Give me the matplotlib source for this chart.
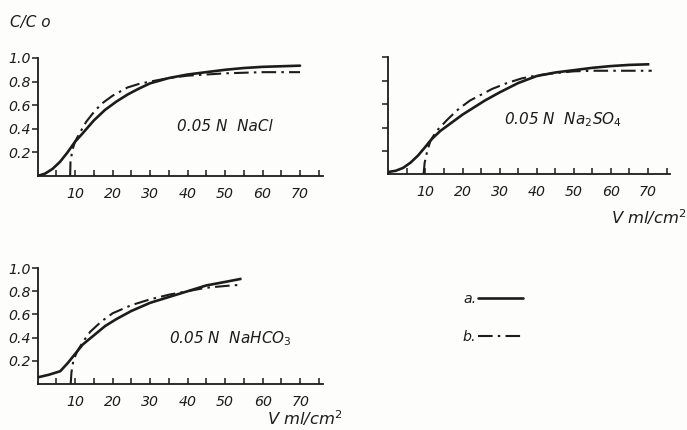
import matplotlib
matplotlib.use("Agg")
import matplotlib.pyplot as plt

plt.rcParams['font.family'] = ['DejaVu Sans']
plt.rcParams['mathtext.default'] = 'it'

INK = '#1c1c1c'

# ---- data ----
nacl_a_x = [0, 2, 4, 6, 8, 10, 12, 15, 18, 21, 24, 27, 30, 35, 40, 45, 50, 55, 60, 65, 70]
nacl_a_y = [0, 0.02, 0.06, 0.12, 0.20, 0.29, 0.36, 0.47, 0.56, 0.63, 0.69, 0.74, 0.785, 0.83, 0.86, 0.88, 0.90, 0.915, 0.925, 0.93, 0.935]
nacl_b_x = [8.7, 8.8, 9.3, 10, 11, 13, 15, 17, 20, 24, 27, 30, 35, 40, 45, 50, 55, 60, 65, 70]
nacl_b_y = [0, 0.12, 0.22, 0.29, 0.35, 0.46, 0.54, 0.61, 0.68, 0.75, 0.78, 0.80, 0.83, 0.85, 0.86, 0.87, 0.875, 0.88, 0.88, 0.88]

na2so4_a_x = [0, 2, 4, 6, 8, 10, 11, 12, 13, 14, 17, 20, 23, 26, 30, 35, 40, 45, 50, 55, 60, 65, 70]
na2so4_a_y = [0.02, 0.03, 0.055, 0.10, 0.16, 0.235, 0.275, 0.31, 0.34, 0.37, 0.44, 0.51, 0.57, 0.63, 0.70, 0.78, 0.84, 0.87, 0.89, 0.91, 0.925, 0.935, 0.94]
na2so4_b_x = [9.5, 9.8, 10.5, 11.4, 13, 16, 19, 22, 25, 28, 32, 36, 40, 45, 50, 55, 60, 65, 71]
na2so4_b_y = [0, 0.10, 0.20, 0.29, 0.37, 0.47, 0.56, 0.63, 0.68, 0.73, 0.78, 0.82, 0.845, 0.865, 0.88, 0.885, 0.885, 0.885, 0.885]

nahco3_a_x = [0, 3, 6, 8, 10, 12, 15, 18, 21, 25, 30, 35, 40, 45, 50, 54]
nahco3_a_y = [0.057, 0.08, 0.11, 0.18, 0.26, 0.34, 0.42, 0.50, 0.56, 0.63, 0.70, 0.75, 0.80, 0.85, 0.88, 0.905]
nahco3_b_x = [8.8, 9.0, 9.5, 10.5, 12, 14, 17, 20, 25, 30, 35, 40, 45, 50, 54]
nahco3_b_y = [0, 0.10, 0.20, 0.28, 0.36, 0.45, 0.54, 0.61, 0.68, 0.73, 0.77, 0.80, 0.83, 0.845, 0.855]

x_major = [10, 20, 30, 40, 50, 60, 70]
x_minor = [5, 15, 25, 35, 45, 55, 65, 75]
y_ticks = [0.2, 0.4, 0.6, 0.8, 1.0]
y_labels = ['0.2', '0.4', '0.6', '0.8', '1.0']

labels = ['0.05 N  NaCl', '0.05 N  Na$_2$SO$_4$', '0.05 N  NaHCO$_3$']
legend_labels = ['a.', 'b.']

fig = plt.figure(figsize=(6.87, 4.30), dpi=100)
fig.patch.set_facecolor('#fdfdfb')

positions = [
    [37.5/687, 1-176/430, 285/687, 118/430],
    [388.3/687, 1-174.3/430, 282/687, 117/430],
    [37.7/687, 1-384/430, 285/687, 116/430],
]

dash_b = (0, (7, 2.5, 1.2, 2.5))
FS = 10.2

axes = []
for pos in positions:
    ax = fig.add_axes(pos)
    ax.set_facecolor('none')
    ax.set_xlim(0, 76)
    ax.set_ylim(0, 1.0)
    for s in ['top', 'right']:
        ax.spines[s].set_visible(False)
    for s in ['left', 'bottom']:
        ax.spines[s].set_color(INK)
        ax.spines[s].set_linewidth(1.3)
    ax.set_xticks(x_major)
    ax.set_xticks(x_minor, minor=True)
    ax.set_xticklabels([str(v) for v in x_major], fontstyle='italic', fontsize=FS, color=INK)
    ax.tick_params(axis='x', which='both', direction='in', length=4, width=1.1, color=INK, pad=8)
    ax.set_yticks(y_ticks)
    ax.tick_params(axis='y', direction='out', length=4, width=1.1, color=INK, pad=1)
    axes.append(ax)

ax1, ax2, ax3 = axes
ax1.set_yticklabels(y_labels, fontstyle='italic', fontsize=FS, color=INK)
ax3.set_yticklabels(y_labels, fontstyle='italic', fontsize=FS, color=INK)
ax2.set_yticklabels([])

la, = ax1.plot(nacl_a_x, nacl_a_y, color=INK, lw=1.9, solid_capstyle='round')
lb, = ax1.plot(nacl_b_x, nacl_b_y, color=INK, lw=1.5, linestyle=dash_b)
ax2.plot(na2so4_a_x, na2so4_a_y, color=INK, lw=1.9)
ax2.plot(na2so4_b_x, na2so4_b_y, color=INK, lw=1.5, linestyle=dash_b)
ax3.plot(nahco3_a_x, nahco3_a_y, color=INK, lw=1.9)
ax3.plot(nahco3_b_x, nahco3_b_y, color=INK, lw=1.5, linestyle=dash_b)

ax1.text(0.49, 0.42, labels[0], transform=ax1.transAxes, fontsize=11, fontstyle='italic', color=INK, va='center')
ax2.text(0.41, 0.47, labels[1], transform=ax2.transAxes, fontsize=11, fontstyle='italic', color=INK, va='center')
ax3.text(0.46, 0.39, labels[2], transform=ax3.transAxes, fontsize=11, fontstyle='italic', color=INK, va='center')

fig.text(10/687, 1-22/430, 'C/C o', fontsize=11, fontstyle='italic', color=INK, va='center', ha='left')
fig.text(1.0, 1-224/430, 'V ml/cm$^2$', fontsize=11.8, fontstyle='italic', color=INK, va='baseline', ha='right')
fig.text(343/687, 1-425/430, 'V ml/cm$^2$', fontsize=11.8, fontstyle='italic', color=INK, va='baseline', ha='right')

leg = fig.legend([la, lb], legend_labels, loc='center', bbox_to_anchor=(493/687, 1-318/430),
                 markerfirst=False, frameon=False, handlelength=3.2, handletextpad=0.1,
                 labelspacing=1.7, prop={'size': FS, 'style': 'italic'})
for t in leg.get_texts():
    t.set_color(INK)

fig.savefig('out.png', dpi=100, facecolor=fig.get_facecolor())
